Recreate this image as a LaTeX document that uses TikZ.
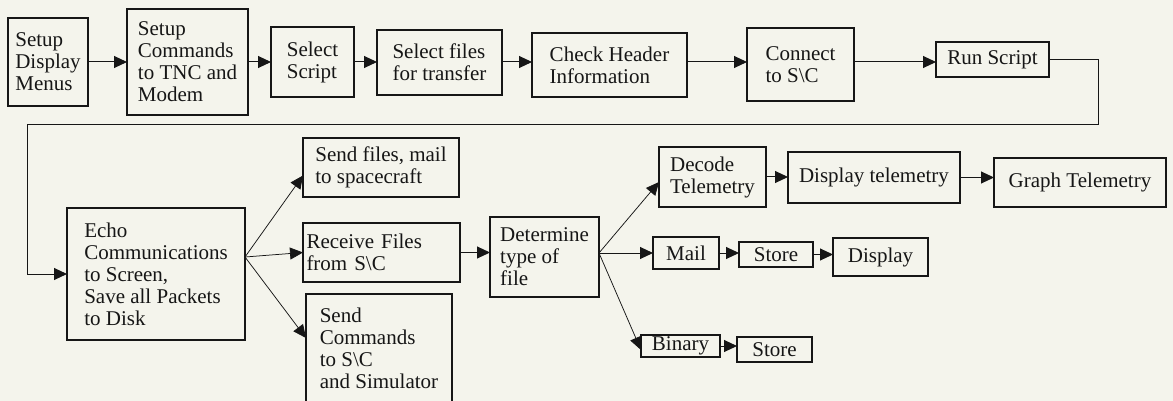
\documentclass[tikz,border=0pt]{standalone}
\usepackage{fontspec}
\setmainfont{Liberation Serif}
\usetikzlibrary{arrows.meta}
\definecolor{paper}{RGB}{244,244,236}
\definecolor{ink}{RGB}{22,22,22}
% \flowbox[options]{name}{left}{top}{width}{height}{text}, all sizes in pt
\newcommand\flowbox[7][]{%
  \node[bx,anchor=north west,minimum width=#5pt,minimum height=#6pt,#1] (#2) at (#3pt,-#4pt) {#7};}
\begin{document}
\begin{tikzpicture}[
  bx/.style={draw=ink, line width=1.2pt, outer sep=0pt, inner sep=2pt,
             align=left, text=ink, font=\fontsize{21}{22}\selectfont},
  flow/.style={draw=ink, line width=1pt, -{Triangle[length=13pt,width=12pt]}},
  fan/.style={flow, line width=0.75pt}
]
\fill[paper] (0,0) rectangle (1173pt,-401pt);
\useasboundingbox (0,0) rectangle (1173pt,-401pt);

% top row: preparation steps
\flowbox{sdm}{8}{18}{80}{88}{Setup\\Display\\Menus}
\flowbox{scm}{127}{9}{121}{106}{Setup\\Commands\\to TNC and\\Modem}
\flowbox{ssc}{271}{27}{83}{70}{Select\\Script}
\flowbox{sft}{377}{30}{125}{65}{Select files\\for transfer}
\flowbox{chi}{532}{33}{155}{64}{Check Header\\Information}
\flowbox{con}{747}{28}{107}{73}{Connect\\to S\textbackslash C}
\flowbox{run}{936}{42}{113}{35}{Run Script}

% communication session
\flowbox{echo}{67}{208}{178}{132}{Echo\\Communications\\to Screen,\\Save all Packets\\to Disk}
\flowbox{sfm}{303}{138}{156}{59}{Send files, mail\\to spacecraft}
\flowbox[inner xsep=3pt,text width=150pt]{rfs}{303}{223}{157}{59}{Receive Files\\from S\textbackslash C}
\flowbox{scs}{306}{294}{146}{108}{Send\\Commands\\to S\textbackslash C\\and Simulator}
\flowbox{dtf}{490}{217}{109}{80}{Determine\\type of\\file}

% handling of received files
\flowbox{dec}{659}{147}{107}{60}{Decode\\Telemetry}
\flowbox{dtl}{788}{152}{172}{51}{Display telemetry}
\flowbox{gtl}{994}{158}{172}{49}{Graph Telemetry}
\flowbox{mail}{653}{237}{66}{32}{Mail}
\flowbox{sto1}{739}{242}{74}{25}{Store}
\flowbox{dsp}{833}{238}{95}{38}{Display}
\flowbox[inner ysep=1pt]{bin}{641}{335}{79}{22}{Binary}
\flowbox{sto2}{737}{337}{75}{25}{Store}

% top row connectors
\coordinate (row1) at (0,-62pt);
\draw[flow] (sdm.east |- row1) -- (scm.west |- row1);
\draw[flow] (scm.east |- row1) -- (ssc.west |- row1);
\draw[flow] (ssc.east |- row1) -- (sft.west |- row1);
\draw[flow] (sft.east |- row1) -- (chi.west |- row1);
\draw[flow] (chi.east |- row1) -- (con.west |- row1);
\draw[flow] (con.east |- row1) -- (run.west |- row1);

% return line from the script run to the session box
\coordinate (loopR) at (1098pt,-125pt);
\coordinate (loopL) at (27pt,-125pt);
\draw[flow] (run.east) -| (loopR) -- (loopL) |- (echo.west);

% fan out of the session box
\coordinate (efan) at ([yshift=17pt]echo.east);
\draw[fan] (efan) -- ([yshift=-8pt]sfm.west);
\draw[fan] (efan) -- (rfs.west);
\draw[fan] (efan) -- ([yshift=10pt]scs.west);
\draw[flow] (rfs.east) -- (rfs.east -| dtf.west);

% fan out by file type
\coordinate (dfan) at ([yshift=4pt]dtf.east);
\draw[fan] (dfan) -- ([yshift=-5pt]dec.west);
\draw[flow] (dfan) -- (dfan -| mail.west);
\draw[fan] (dfan) -- ([yshift=-4pt]bin.west);

\draw[flow] (dec.east) -- (dec.east -| dtl.west);
\draw[flow] (dtl.east) -- (dtl.east -| gtl.west);
\draw[flow] (mail.east) -- (mail.east -| sto1.west);
\draw[flow] (sto1.east) -- (sto1.east -| dsp.west);
\draw[flow] (bin.east) -- (bin.east -| sto2.west);
\end{tikzpicture}
\end{document}
